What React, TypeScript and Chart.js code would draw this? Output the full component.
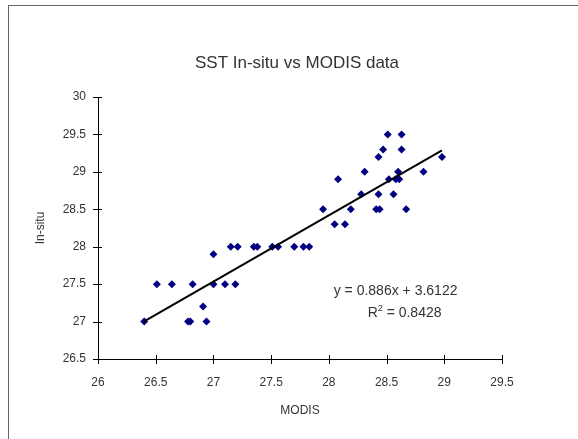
import React, { useEffect, useRef } from "react";
import { Chart, registerables } from "chart.js";

Chart.register(...registerables);

const modisValues = [
  26.40, 26.51, 26.64, 26.78, 26.80, 26.82, 26.91, 26.94, 27.00, 27.00,
  27.10, 27.19, 27.15, 27.21, 27.35, 27.38, 27.51, 27.56, 27.70, 27.78,
  27.83, 27.95, 28.05, 28.14, 28.08, 28.19, 28.28, 28.31, 28.41, 28.44,
  28.43, 28.43, 28.47, 28.51, 28.63, 28.63, 28.56, 28.60, 28.52, 28.58,
  28.61, 28.67, 28.82, 28.98,
];
const inSituValues = [
  27.0, 27.5, 27.5, 27.0, 27.0, 27.5, 27.2, 27.0, 27.9, 27.5,
  27.5, 27.5, 28.0, 28.0, 28.0, 28.0, 28.0, 28.0, 28.0, 28.0,
  28.0, 28.5, 28.3, 28.3, 28.9, 28.5, 28.7, 29.0, 28.5, 28.5,
  28.7, 29.2, 29.3, 29.5, 29.5, 29.3, 28.7, 29.0, 28.9, 28.9,
  28.9, 28.5, 29.0, 29.2,
];
const trendSlope = 0.886;
const trendIntercept = 3.6122;
const xTicks = [26, 26.5, 27, 27.5, 28, 28.5, 29, 29.5];
const yTicks = [26.5, 27, 27.5, 28, 28.5, 29, 29.5, 30];
const chartTitle = "SST In-situ vs MODIS data";
const xTitle = "MODIS";
const yTitle = "In-situ";
const equationText = "y = 0.886x + 3.6122";
const r2Value = "0.8428";

const FONT = "'Liberation Sans', Arial, sans-serif";
const TEXT = "#333333";

export default function App() {
  const ref = useRef<HTMLCanvasElement | null>(null);

  useEffect(() => {
    if (!ref.current) return;
    const points = modisValues.map((x, i) => ({ x, y: inSituValues[i] }));
    const xMin = Math.min(...modisValues);
    const xMax = Math.max(...modisValues);
    const trend = [
      { x: xMin, y: trendSlope * xMin + trendIntercept },
      { x: xMax, y: trendSlope * xMax + trendIntercept },
    ];

    const decor = {
      id: "decor",
      afterDraw(chart: any) {
        const ctx = chart.ctx;
        const xs = chart.scales.x;
        const ys = chart.scales.y;
        const area = chart.chartArea;
        ctx.save();
        // crossing tick marks
        ctx.strokeStyle = "#000";
        ctx.lineWidth = 1;
        ctx.beginPath();
        xTicks.forEach((v) => {
          const px = Math.round(xs.getPixelForValue(v)) + 0.5;
          ctx.moveTo(px, area.bottom - 4);
          ctx.lineTo(px, area.bottom + 5);
        });
        yTicks.forEach((v) => {
          const py = Math.round(ys.getPixelForValue(v)) + 0.5;
          ctx.moveTo(area.left - 5, py);
          ctx.lineTo(area.left + 4, py);
        });
        ctx.stroke();

        ctx.fillStyle = TEXT;
        ctx.textAlign = "center";
        ctx.textBaseline = "middle";
        // title
        ctx.font = `17px ${FONT}`;
        ctx.fillText(chartTitle, (area.left + area.right) / 2 - 3, area.top - 34);
        // x title
        ctx.font = `12px ${FONT}`;
        ctx.fillText(xTitle, (area.left + area.right) / 2, area.bottom + 52);
        // y title
        ctx.save();
        ctx.translate(area.left - 57, (area.top + area.bottom) / 2);
        ctx.rotate(-Math.PI / 2);
        ctx.fillText(yTitle, 0, 0);
        ctx.restore();
        // equation
        ctx.font = `14px ${FONT}`;
        const ex = xs.getPixelForValue(28.5);
        const ey = ys.getPixelForValue(27.4);
        ctx.fillText(equationText, ex + 9, ey);
        const r2y = ey + 22;
        const rest = " = " + r2Value;
        ctx.font = `14px ${FONT}`;
        const wR = ctx.measureText("R").width;
        ctx.font = `9px ${FONT}`;
        const w2 = ctx.measureText("2").width;
        ctx.font = `14px ${FONT}`;
        const wRest = ctx.measureText(rest).width;
        const total = wR + w2 + wRest;
        let sx = ex + 18 - total / 2;
        ctx.textAlign = "left";
        ctx.fillText("R", sx, r2y);
        sx += wR;
        ctx.font = `9px ${FONT}`;
        ctx.fillText("2", sx, r2y - 5);
        sx += w2;
        ctx.font = `14px ${FONT}`;
        ctx.fillText(rest, sx, r2y);
        ctx.restore();
      },
    };

    const chart = new Chart(ref.current, {
      type: "scatter",
      data: {
        datasets: [
          {
            type: "line",
            data: trend,
            borderColor: "#000000",
            borderWidth: 2,
            pointRadius: 0,
            fill: false,
          } as any,
          {
            data: points,
            backgroundColor: "#000080",
            borderColor: "#000080",
            pointStyle: "rectRot",
            pointRadius: 4,
            borderWidth: 0,
          },
        ],
      },
      options: {
        animation: false,
        responsive: false,
        devicePixelRatio: 1,
        layout: { padding: { left: 0, top: 97, right: 76, bottom: 0 } },
        plugins: {
          legend: { display: false },
          title: { display: false },
          tooltip: { enabled: false },
        },
        scales: {
          x: {
            type: "linear",
            min: 26,
            max: 29.5,
            afterFit: (s: any) => {
              s.height = 80;
            },
            afterBuildTicks: (s: any) => {
              s.ticks = xTicks.map((v) => ({ value: v }));
            },
            grid: { display: true, drawOnChartArea: false, drawTicks: false },
            border: { display: true, color: "#000", width: 1 },
            ticks: {
              padding: 16,
              color: TEXT,
              font: { family: FONT, size: 12 },
              maxRotation: 0,
              callback: (v: any) => String(v),
            },
          },
          y: {
            type: "linear",
            min: 26.5,
            max: 30,
            afterFit: (s: any) => {
              s.width = 98;
            },
            afterBuildTicks: (s: any) => {
              s.ticks = yTicks.map((v) => ({ value: v }));
            },
            grid: { display: true, drawOnChartArea: false, drawTicks: false },
            border: { display: true, color: "#000", width: 1 },
            ticks: {
              padding: 12,
              color: TEXT,
              font: { family: FONT, size: 12 },
              callback: (v: any) => String(v),
            },
          },
        },
      },
      plugins: [decor],
    });
    return () => chart.destroy();
  }, []);

  return (
    <div style={{ position: "fixed", left: 0, top: 0, width: 578, height: 439, background: "#fff" }}>
      <canvas ref={ref} width={578} height={439} style={{ position: "absolute", left: 0, top: 0 }} />
      <div
        style={{
          position: "absolute",
          left: 8,
          top: 5,
          width: 569,
          height: 450,
          borderTop: "1px solid #666",
          borderLeft: "1px solid #666",
          pointerEvents: "none",
        }}
      />
    </div>
  );
}
